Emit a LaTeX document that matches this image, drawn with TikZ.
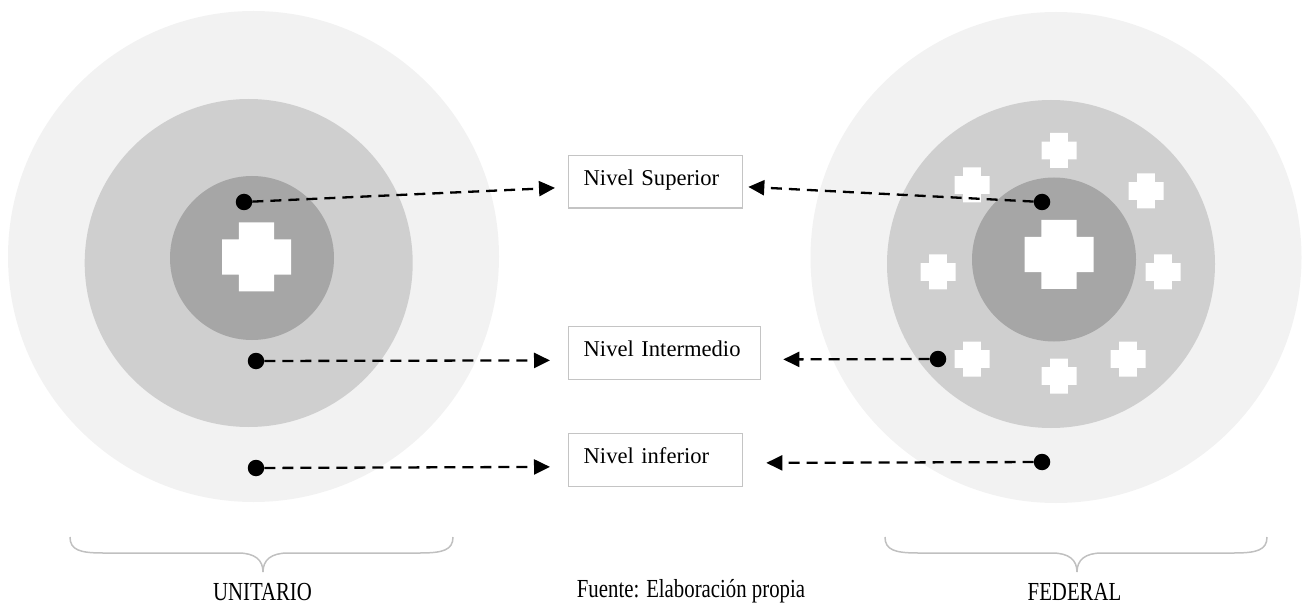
\documentclass[tikz,border=0pt]{standalone}
\usepackage{fontspec}
\setmainfont{Liberation Serif}
\usetikzlibrary{arrows.meta}
\definecolor{ringouter}{HTML}{F2F2F2}
\definecolor{ringmid}{HTML}{CFCFCF}
\definecolor{ringinner}{HTML}{A6A6A6}
\definecolor{boxgray}{HTML}{C4C4C4}
\definecolor{bracegray}{HTML}{C0C0C0}
\begin{document}
\begin{tikzpicture}[x=1pt,y=-1pt,
  lvlbox/.style={draw=boxgray, line width=1.3pt, inner xsep=15pt, inner ysep=0pt,
    text height=29.5pt, text depth=23pt, anchor=north west, align=left,
    font=\fontsize{22.6pt}{27pt}\selectfont},
  dot/.style={circle, fill=black, inner sep=0pt, minimum size=16.5pt},
  link/.style={line width=2.3pt, dash pattern=on 11pt off 7pt,
    -{Triangle[length=16pt,width=15pt]}},
  brace/.style={draw=bracegray, line width=1.5pt},
  caption/.style={font=\fontsize{26pt}{30pt}\selectfont, anchor=base, xscale=0.8,
    inner sep=0pt},
  crossmark/.pic={
    \fill[white] (-0.5,-0.254) -- (-0.254,-0.254) -- (-0.254,-0.5) -- (0.254,-0.5)
      -- (0.254,-0.254) -- (0.5,-0.254) -- (0.5,0.254) -- (0.254,0.254)
      -- (0.254,0.5) -- (-0.254,0.5) -- (-0.254,0.254) -- (-0.5,0.254) -- cycle;
  }
]
\useasboundingbox (0,0) rectangle (1310,604);

% unitary state: three nested rings
\fill[ringouter] (253.5,256.5) circle[radius=245.5pt];
\fill[ringmid]   (248.7,263)   circle[radius=164pt];
\fill[ringinner] (252,258)     circle[radius=82pt];
\pic[scale=69] at (256.5,257) {crossmark};

% federal state: three nested rings with member units
\fill[ringouter] (1056,257.5) circle[radius=245.5pt];
\fill[ringmid]   (1051,264)   circle[radius=164pt];
\fill[ringinner] (1054,259.5) circle[radius=82pt];
\pic[scale=69] at (1059,254.5) {crossmark};
\foreach \cx/\cy in {1059/150.5, 972/185, 1146/191, 938/272, 1163/272,
                     972/359, 1059/376, 1128/359}
  \pic[scale=35] at (\cx,\cy) {crossmark};

% level boxes
\node[lvlbox, text width=144pt] (sup) at (568,155) {Nivel Superior};
\node[lvlbox, text width=162pt] (mid) at (568,326) {Nivel Intermedio};
\node[lvlbox, text width=144pt] (low) at (568,433) {Nivel inferior};

% level markers
\node[dot] (uL1) at (244,202) {};
\node[dot] (uL2) at (256,361) {};
\node[dot] (uL3) at (256,468) {};
\node[dot] (fR1) at (1042,202) {};
\node[dot] (fR2) at (938,359) {};
\node[dot] (fR3) at (1042,462) {};

% arrow tips beside the boxes
\coordinate (supL) at ([xshift=-13pt,yshift=-6pt]sup.west);
\coordinate (midL) at ([xshift=-18pt,yshift=-7.5pt]mid.west);
\coordinate (lowL) at ([xshift=-18pt,yshift=-7pt]low.west);
\coordinate (supR) at ([xshift=5pt,yshift=-5pt]sup.east);
\coordinate (midR) at ([xshift=22pt,yshift=-6.5pt]mid.east);
\coordinate (lowR) at ([xshift=23pt,yshift=-3pt]low.east);

\draw[link] (uL1) -- (supL);
\draw[link] (uL2) -- (midL);
\draw[link] (uL3) -- (lowL);
\draw[link] (fR1) -- (supR);
\draw[link] (fR2) -- (midR);
\draw[link] (fR3) -- (lowR);

% braces under each model
\draw[brace] (70,537) .. controls (70,550) and (80,553) .. (103,553) -- (238,553)
  .. controls (255,553) and (263,560) .. (263,572)
  .. controls (263,560) and (271,553) .. (288,553) -- (420,553)
  .. controls (443,553) and (453,550) .. (453,537);
\draw[brace] (885,537) .. controls (885,550) and (895,553) .. (918,553) -- (1052,553)
  .. controls (1069,553) and (1077,560) .. (1077,572)
  .. controls (1077,560) and (1085,553) .. (1102,553) -- (1234,553)
  .. controls (1257,553) and (1267,550) .. (1267,537);

% captions
\node[caption] (unit) at (262.5,600) {UNITARIO};
\node[caption] (fed) at (1074.5,600) {FEDERAL};
\node[caption] (src) at (691,597) {Fuente: Elaboración propia};
\end{tikzpicture}
\end{document}
